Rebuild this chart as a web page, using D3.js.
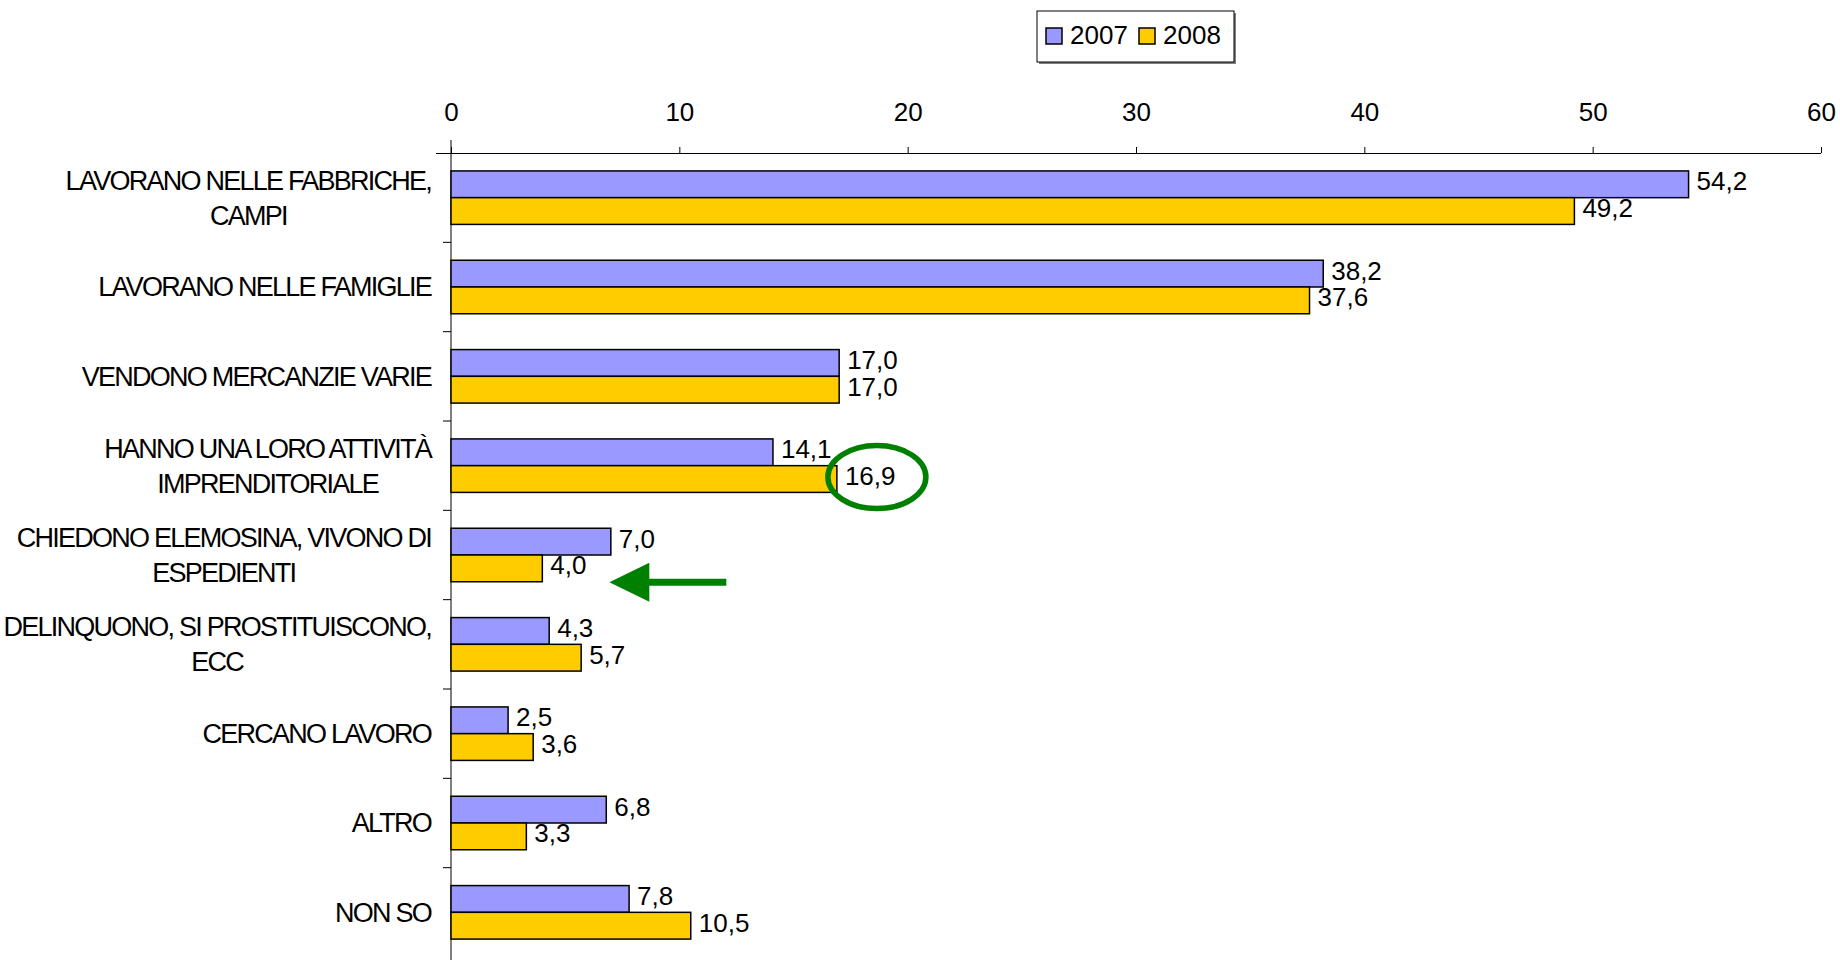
<!DOCTYPE html>
<html>
<head>
<meta charset="utf-8">
<script src="https://cdn.jsdelivr.net/npm/d3@7"></script>
<style>
  body { margin: 0; background: #fff; }
  svg text { font-family: "Liberation Sans", Arial, sans-serif; fill: #000; }
</style>
</head>
<body>
<svg id="chart" width="1840" height="960"></svg>
<script>
// data
var categories = [
  ['LAVORANO NELLE FABBRICHE,', 'CAMPI'],
  ['LAVORANO NELLE FAMIGLIE '],
  ['VENDONO MERCANZIE VARIE'],
  ['HANNO UNA LORO ATTIVITÀ', 'IMPRENDITORIALE'],
  ['CHIEDONO ELEMOSINA, VIVONO DI', 'ESPEDIENTI'],
  ['DELINQUONO, SI PROSTITUISCONO,', 'ECC'],
  ['CERCANO LAVORO'],
  ['ALTRO'],
  ['NON SO']
]
var seriesNames = ['2007', '2008']
var values2007 = [54.2, 38.2, 17.0, 14.1, 7.0, 4.3, 2.5, 6.8, 7.8]
var values2008 = [49.2, 37.6, 17.0, 16.9, 4.0, 5.7, 3.6, 3.3, 10.5]
var xTicks = [0, 10, 20, 30, 40, 50, 60]
var highlightIndex = 3   // circled 2008 value
var arrowIndex = 4       // arrow points at this 2008 value

// colors
var colors = { '2007': '#9999FF', '2008': '#FFCC00' }
var green = '#008000'

var svg = d3.select('#chart')
var it = d3.formatLocale({ decimal: ',', thousands: '.', grouping: [3], currency: ['', '€'] })
var fmt = it.format('.1f')

var x = d3.scaleLinear().domain([0, 60]).range([451, 1821])
var y = d3.scaleBand().domain(d3.range(categories.length)).range([153, 957])
var ys = d3.scaleBand().domain(seriesNames).range([0, y.bandwidth()]).paddingOuter(0.67)

var rows = categories.map(function(c, i) {
  return { i: i, label: c, '2007': values2007[i], '2008': values2008[i] }
})

// top axis
var xAxis = d3.axisTop(x).tickValues(xTicks).tickSize(6).tickPadding(26).tickSizeOuter(0)
var gx = svg.append('g').attr('transform', 'translate(0,153)').call(xAxis)
gx.select('.domain').attr('stroke', '#000').attr('d', 'M' + (x(0) - 15) + ',0.5H' + x(60))
gx.selectAll('.tick line').attr('stroke', '#000')
gx.selectAll('.tick text').attr('font-size', 26).attr('font-family', '"Liberation Sans", Arial, sans-serif')

// left axis (category ticks between bands)
var bounds = d3.range(categories.length + 1).map(function(i) { return y.range()[0] + i * y.step() })
svg.append('line')
  .attr('x1', x(0)).attr('x2', x(0))
  .attr('y1', 140).attr('y2', 960)
  .attr('stroke', '#000')
svg.selectAll('.ytick').data(bounds.slice(1, -1)).enter().append('line')
  .attr('x1', x(0) - 8).attr('x2', x(0))
  .attr('y1', function(d) { return d }).attr('y2', function(d) { return d })
  .attr('stroke', '#000')

// bars
var groups = svg.selectAll('.row').data(rows).enter().append('g')
  .attr('transform', function(d) { return 'translate(0,' + y(d.i) + ')' })

seriesNames.forEach(function(s) {
  groups.append('rect')
    .attr('x', x(0))
    .attr('y', ys(s))
    .attr('width', function(d) { return x(d[s]) - x(0) })
    .attr('height', ys.bandwidth())
    .attr('fill', colors[s])
    .attr('stroke', '#000')
    .attr('stroke-width', 1.5)
  groups.append('text')
    .attr('x', function(d) { return x(d[s]) + 8 })
    .attr('y', ys(s) + ys.bandwidth() / 2 - 3)
    .attr('dy', '0.35em')
    .attr('font-size', 26)
    .text(function(d) { return fmt(d[s]) })
})

// category labels
var labelRight = 431
groups.each(function(d) {
  var g = d3.select(this)
  var cy = y.bandwidth() / 2
  var t = g.append('g')
  var lines = t.selectAll('text').data(d.label).enter().append('text')
    .attr('font-size', 27)
    .attr('letter-spacing', '-1.75px')
    .attr('dy', '0.35em')
    .attr('y', function(l, k) { return cy + (k - (d.label.length - 1) / 2) * 35 })
    .text(function(l) { return l })
  var w = 0
  lines.each(function() { w = Math.max(w, this.getComputedTextLength()) })
  lines.attr('text-anchor', 'middle').attr('x', labelRight - w / 2)
})

// legend
var lg = svg.append('g').attr('transform', 'translate(1037,11)')
lg.append('rect').attr('x', 2).attr('y', 2).attr('width', 197).attr('height', 51).attr('fill', '#808080')
lg.append('rect').attr('width', 197).attr('height', 51).attr('fill', '#fff').attr('stroke', '#000')
seriesNames.forEach(function(s, k) {
  var ox = 9 + k * 93
  lg.append('rect').attr('x', ox).attr('y', 17).attr('width', 16).attr('height', 16)
    .attr('fill', colors[s]).attr('stroke', '#000').attr('stroke-width', 1.5)
  lg.append('text').attr('x', ox + 24).attr('y', 24).attr('dy', '0.35em')
    .attr('font-size', 26).text(s)
})

// annotations
var hy = y(highlightIndex) + ys('2008') + ys.bandwidth() / 2
svg.append('ellipse')
  .attr('cx', x(values2008[highlightIndex]) + 40)
  .attr('cy', hy - 2)
  .attr('rx', 49).attr('ry', 31.5)
  .attr('fill', 'none').attr('stroke', green).attr('stroke-width', 5.5)

var ay = y(arrowIndex) + ys('2008') + ys.bandwidth() / 2 + 14
var tipX = x(values2008[arrowIndex]) + 67
svg.append('line')
  .attr('x1', tipX + 30).attr('x2', tipX + 117)
  .attr('y1', ay).attr('y2', ay)
  .attr('stroke', green).attr('stroke-width', 7)
svg.append('path')
  .attr('d', 'M' + tipX + ',' + ay + 'L' + (tipX + 40) + ',' + (ay - 19.5) + 'L' + (tipX + 40) + ',' + (ay + 19.5) + 'Z')
  .attr('fill', green)
</script>
</body>
</html>
